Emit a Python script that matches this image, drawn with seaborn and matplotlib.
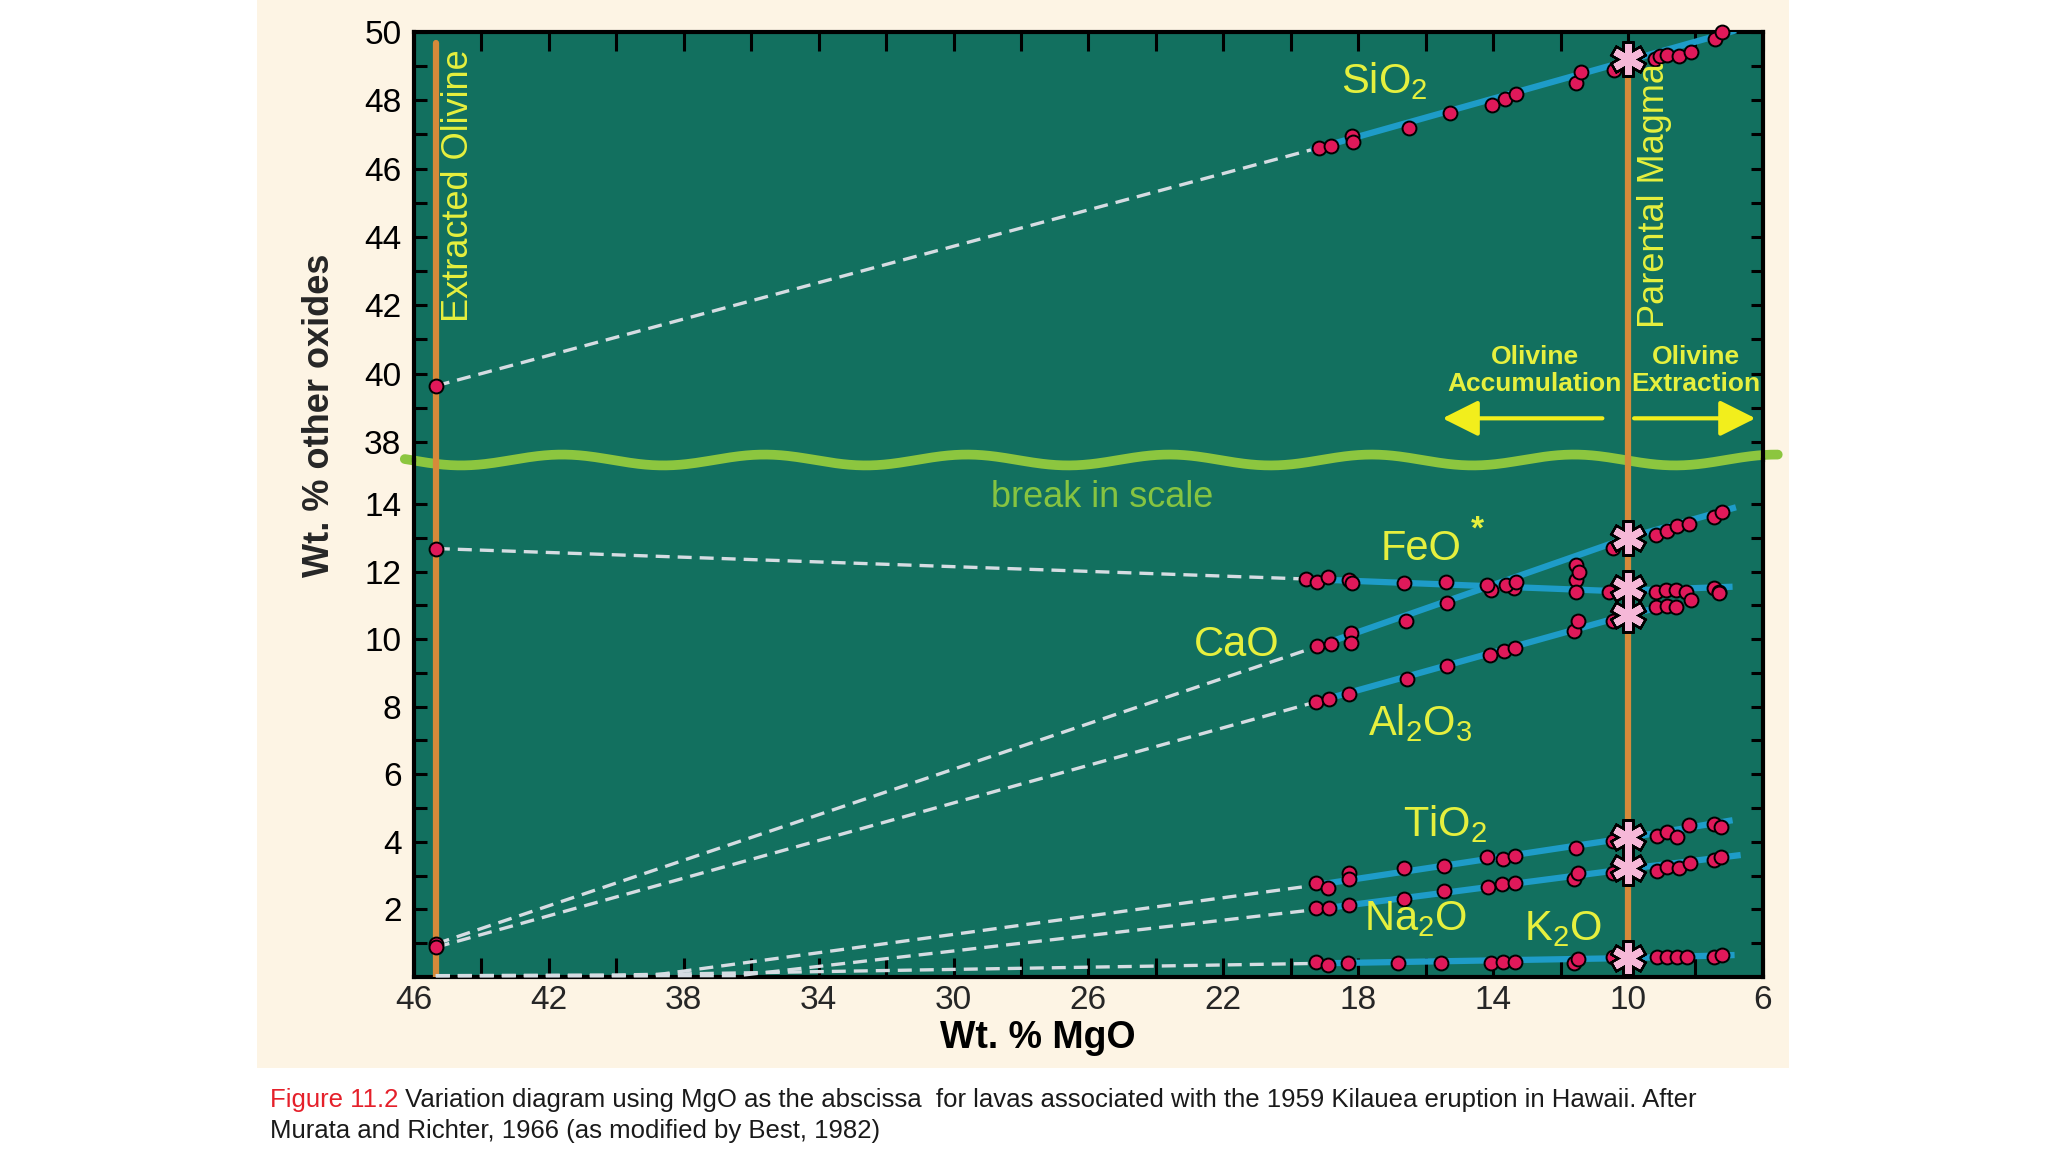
import numpy as np
import pandas as pd
import seaborn as sns
import matplotlib.pyplot as plt
from matplotlib.patches import Rectangle
from matplotlib.ticker import FixedLocator
from matplotlib.transforms import blended_transform_factory

# Kilauea 1959 lavas, Wt.% MgO vs Wt.% oxide
olivine_mgo = 45.35
parent_mgo = 10.0

sio2_mgo = [19.16, 18.81, 18.17, 18.15, 16.49, 15.28, 14.04, 13.64, 13.31, 11.55, 11.40, 10.41,
            9.2, 9.05, 8.84, 8.49, 8.14, 7.41, 7.2]
sio2_wt = [46.6, 46.66, 46.96, 46.79, 47.18, 47.62, 47.86, 48.03, 48.2, 48.5, 48.82, 48.9,
           49.22, 49.3, 49.33, 49.3, 49.42, 49.81, 50.0]

feo_mgo = [19.55, 19.23, 18.91, 18.27, 18.17, 16.64, 15.40, 14.07, 13.38, 11.55, 11.55, 10.56,
           9.18, 8.88, 8.59, 8.29, 7.45, 7.3]
feo_wt = [11.77, 11.7, 11.84, 11.75, 11.65, 11.65, 11.70, 11.45, 11.5, 11.75, 11.4, 11.4,
          11.4, 11.45, 11.45, 11.4, 11.5, 11.4]

cao_mgo = [19.23, 18.81, 18.22, 18.22, 16.59, 15.36, 14.17, 13.62, 13.31, 11.55, 11.45, 10.46,
           9.18, 8.84, 8.55, 8.19, 7.45, 7.21]
cao_wt = [9.79, 9.85, 10.17, 9.89, 10.54, 11.06, 11.6, 11.6, 11.7, 12.19, 11.99, 12.71,
          13.08, 13.2, 13.34, 13.4, 13.61, 13.76]

al2o3_mgo = [19.25, 18.88, 18.27, 16.54, 15.36, 14.1, 13.67, 13.35, 11.6, 11.47, 10.46,
             9.18, 8.84, 8.59, 8.14, 7.3]
al2o3_wt = [8.15, 8.22, 8.37, 8.81, 9.2, 9.53, 9.64, 9.75, 10.24, 10.54, 10.54,
            10.94, 10.98, 10.94, 11.15, 11.35]

tio2_mgo = [19.25, 18.9, 18.28, 18.28, 16.64, 15.45, 14.17, 13.7, 13.35, 11.55, 10.46,
            9.13, 8.84, 8.55, 8.19, 7.45, 7.25]
tio2_wt = [2.79, 2.64, 3.07, 2.9, 3.23, 3.28, 3.56, 3.49, 3.58, 3.81, 4.03,
           4.17, 4.3, 4.13, 4.5, 4.53, 4.45]

na2o_mgo = [19.25, 18.88, 18.28, 16.64, 15.45, 14.14, 13.74, 13.35, 11.6, 11.47, 10.46,
            9.13, 8.84, 8.49, 8.17, 7.45, 7.25]
na2o_wt = [2.03, 2.05, 2.13, 2.3, 2.54, 2.67, 2.75, 2.77, 2.89, 3.07, 3.07,
           3.15, 3.26, 3.22, 3.38, 3.46, 3.56]

k2o_mgo = [19.25, 18.9, 18.31, 16.81, 15.55, 14.07, 13.7, 13.35, 11.6, 11.47, 10.46,
           9.13, 8.84, 8.55, 8.24, 7.45, 7.2]
k2o_wt = [0.45, 0.36, 0.41, 0.41, 0.41, 0.42, 0.45, 0.45, 0.42, 0.52, 0.6,
          0.58, 0.58, 0.58, 0.58, 0.58, 0.66]

# extracted olivine composition
olivine_upper = [39.64]             # SiO2
olivine_lower = [12.68, 0.98, 0.88]  # FeO, CaO, Al2O3

# parental magma (stars)
parent_upper = [49.2]
parent_lower = [13.0, 11.5, 10.72, 4.15, 3.22, 0.55]  # CaO, FeO, Al2O3, TiO2, Na2O, K2O

# fitted trends through the lavas
sio2_fit = ([19.4, 6.8], [46.55, 50.05])
feo_fit = ([19.6, 10.4, 6.9], [11.78, 11.42, 11.55])
cao_fit = ([19.4, 10.0, 6.8], [9.72, 13.0, 13.9])
al2o3_fit = ([19.4, 10.0, 9.0], [8.1, 10.72, 10.95])
tio2_fit = ([19.4, 10.0, 6.9], [2.7, 4.12, 4.64])
na2o_fit = ([19.4, 10.0, 6.66], [1.98, 3.2, 3.61])
k2o_fit = ([19.4, 10.0, 6.84], [0.4, 0.56, 0.65])

# olivine control lines (dashed)
sio2_ctrl = ([45.35, 19.4], [39.64, 46.55])
feo_ctrl = ([45.35, 19.6], [12.68, 11.78])
cao_ctrl = ([45.35, 19.4], [0.98, 9.72])
al2o3_ctrl = ([45.35, 19.4], [0.88, 8.1])
tio2_ctrl = ([45.35, 39.0, 19.4], [0.04, 0.04, 2.7])
na2o_ctrl = ([45.35, 36.4, 19.4], [0.04, 0.04, 1.98])
k2o_ctrl = ([45.35, 40.0, 19.4], [0.04, 0.06, 0.4])

teal = '#12705F'
blue = '#1E9CC8'
dash_c = '#D5DCE2'
orange = '#D58A3A'
dot = '#E0195A'
pink = '#F6B8D8'
yellow = '#E6F03E'
arrow_c = '#F2EE1C'
green = '#8CC63F'

sns.set_theme(style='ticks')
plt.rcParams['font.family'] = ['Liberation Sans', 'DejaVu Sans']
plt.rcParams['mathtext.fontset'] = 'custom'
plt.rcParams['mathtext.rm'] = 'Liberation Sans'
plt.rcParams['mathtext.default'] = 'regular'

fig = plt.figure(figsize=(20.48, 11.52), dpi=100)
fig.patch.set_facecolor('white')
fig.patches.append(Rectangle((0.1255, 0.0729), 0.748, 0.9271, transform=fig.transFigure,
                             facecolor='#FDF4E4', edgecolor='none', zorder=-2))
fig.patches.append(Rectangle((0.2021, 0.1519), 0.6587, 0.8203, transform=fig.transFigure,
                             facecolor=teal, edgecolor='none', zorder=-1))

ax_bot = fig.add_axes([0.2021, 0.1519, 0.6587, 0.4488])
ax_top = fig.add_axes([0.2021, 0.6007, 0.6587, 0.3715])
ax_bot.set_zorder(1)
ax_top.set_zorder(2)
for ax in (ax_top, ax_bot):
    ax.set_facecolor('none')
    ax.set_xlim(46, 6)
    for sp in ax.spines.values():
        sp.set_linewidth(3)
        sp.set_color('black')
ax_top.set_ylim(37.47, 50)
ax_bot.set_ylim(0, 15.3)
ax_top.spines['bottom'].set_visible(False)
ax_bot.spines['top'].set_visible(False)

# ticks
for ax in (ax_top, ax_bot):
    ax.xaxis.set_major_locator(FixedLocator(np.arange(46, 5, -4)))
    ax.xaxis.set_minor_locator(FixedLocator(np.arange(44, 7, -4)))
    ax.tick_params(axis='x', which='both', direction='in', length=14, width=2.2, color='black')
    ax.tick_params(axis='y', which='both', direction='in', length=9, width=2.2,
                   left=True, right=True, labelsize=24, pad=9, colors='black')
ax_top.tick_params(axis='x', which='both', top=True, bottom=False, labelbottom=False)
ax_bot.tick_params(axis='x', which='both', top=False, bottom=True, labelsize=24, pad=6)
ax_top.yaxis.set_major_locator(FixedLocator(np.arange(38, 51, 2)))
ax_top.yaxis.set_minor_locator(FixedLocator(np.arange(39, 50, 2)))
ax_bot.yaxis.set_major_locator(FixedLocator(np.arange(2, 15, 2)))
ax_bot.yaxis.set_minor_locator(FixedLocator(np.arange(1, 15, 2)))
ax_bot.set_xticklabels([str(v) for v in range(46, 5, -4)])

# break in scale
wave_x = np.linspace(46.27, 5.56, 600)
wave_y = 1 + 0.0105 * np.cos(2 * np.pi * (wave_x - 41.6) / 6.0)
ax_bot.plot(wave_x, wave_y, color=green, lw=7, solid_capstyle='round', clip_on=False,
            transform=blended_transform_factory(ax_bot.transData, ax_bot.transAxes), zorder=2)

# vertical reference lines
ax_top.plot([olivine_mgo, olivine_mgo], [37.47, 49.68], color=orange, lw=4.5, zorder=3)
ax_bot.plot([olivine_mgo, olivine_mgo], [0, 15.3], color=orange, lw=4.5, zorder=3)
ax_top.plot([parent_mgo, parent_mgo], [37.47, 49.0], color=orange, lw=4.5, zorder=3)
ax_bot.plot([parent_mgo, parent_mgo], [1.05, 15.3], color=orange, lw=4.5, zorder=3)

# dashed control lines and blue trends
for ax, lines in ((ax_top, [sio2_ctrl]),
                  (ax_bot, [feo_ctrl, cao_ctrl, al2o3_ctrl, tio2_ctrl, na2o_ctrl, k2o_ctrl])):
    for xs, ys in lines:
        ax.plot(xs, ys, color=dash_c, lw=2.4, dashes=(4.2, 2.4), zorder=3.5, clip_on=False)
for ax, lines in ((ax_top, [sio2_fit]),
                  (ax_bot, [feo_fit, cao_fit, al2o3_fit, tio2_fit, na2o_fit, k2o_fit])):
    for xs, ys in lines:
        ax.plot(xs, ys, color=blue, lw=4.5, solid_capstyle='butt', zorder=3.6)

# lava analyses
upper_pts = pd.DataFrame({'mgo': sio2_mgo, 'wt': sio2_wt})
lower_pts = pd.concat([pd.DataFrame({'mgo': m, 'wt': w}) for m, w in
                       [(feo_mgo, feo_wt), (cao_mgo, cao_wt), (al2o3_mgo, al2o3_wt),
                        (tio2_mgo, tio2_wt), (na2o_mgo, na2o_wt), (k2o_mgo, k2o_wt)]])
for ax, df, ol in ((ax_top, upper_pts, olivine_upper), (ax_bot, lower_pts, olivine_lower)):
    sns.scatterplot(data=df, x='mgo', y='wt', ax=ax, color=dot, edgecolor='black',
                    linewidth=1.4, s=100, zorder=5, clip_on=False, legend=False)
    sns.scatterplot(x=[olivine_mgo] * len(ol), y=ol, ax=ax, color=dot, edgecolor='black',
                    linewidth=1.4, s=100, zorder=5, legend=False)
    ax.set_xlabel('')
    ax.set_ylabel('')

# parental magma stars
for ax, vals in ((ax_top, parent_upper), (ax_bot, parent_lower)):
    px = [parent_mgo] * len(vals)
    ax.plot(px, vals, ls='none', marker=(6, 2, 0), ms=26, mew=9, mec='black', zorder=6,
            clip_on=False)
    ax.plot(px, vals, ls='none', marker=(6, 2, 0), ms=22, mew=5, mec=pink, zorder=7,
            clip_on=False)

# oxide labels
lab = dict(color=yellow, fontsize=30, ha='left', va='baseline', zorder=8)
ax_top.text(18.5, 48.2, r'SiO$_2$', **lab)
ax_bot.text(17.33, 12.34, 'FeO', **lab)
ax_bot.text(14.47, 13.22, '*', color=yellow, fontsize=24, fontweight='bold', ha='center',
            va='center', zorder=8)
ax_bot.text(22.86, 9.51, 'CaO', **lab)
ax_bot.text(17.72, 7.15, r'Al$_2$O$_3$', **lab)
ax_bot.text(16.68, 4.17, r'TiO$_2$', **lab)
ax_bot.text(17.82, 1.39, r'Na$_2$O', **lab)
ax_bot.text(13.08, 1.09, r'K$_2$O', **lab)
ax_bot.text(25.6, 14.18, 'break in scale', color='#86C441', fontsize=26, ha='center',
            va='center', zorder=8)

ax_top.text(44.68, 45.5, 'Extracted Olivine', color=yellow, fontsize=26, rotation=90,
            ha='center', va='center', zorder=8)
ax_top.text(9.2, 45.2, 'Parental Magma', color=yellow, fontsize=26, rotation=90,
            ha='center', va='center', zorder=8)
ax_top.text(12.76, 40.09, 'Olivine\nAccumulation', color=yellow, fontsize=19,
            fontweight='bold', ha='center', va='center', linespacing=1.15, zorder=8)
ax_top.text(7.99, 40.09, 'Olivine\nExtraction', color=yellow, fontsize=19,
            fontweight='bold', ha='center', va='center', linespacing=1.15, zorder=8)
arrow = dict(arrowstyle='-|>,head_length=1.1,head_width=0.55', mutation_scale=20, lw=3,
             color=arrow_c, shrinkA=0, shrinkB=0)
ax_top.annotate('', xy=(15.5, 38.69), xytext=(10.76, 38.69), arrowprops=arrow, zorder=8)
ax_top.annotate('', xy=(6.22, 38.69), xytext=(9.82, 38.69), arrowprops=arrow, zorder=8)

# axis titles
ax_bot.set_xlabel('Wt. % MgO', fontsize=27, fontweight='bold', color='black')
ax_bot.xaxis.set_label_coords(0.4626, -0.083)
fig.text(0.1558, 0.6398, 'Wt. % other oxides', fontsize=26, fontweight='bold',
         rotation=90, ha='center', va='center')

# caption
red = fig.text(0.1318, 0.0451, 'Figure 11.2', color='#E5202A', fontsize=18.5, va='center')
ax_bot.annotate(' Variation diagram using MgO as the abscissa  for lavas associated with the '
                '1959 Kilauea eruption in Hawaii. After', xy=(1, 0.5), xycoords=red,
                va='center', ha='left', fontsize=18.5, color='#1A1A1A', annotation_clip=False)
fig.text(0.1318, 0.0182, 'Murata and Richter, 1966 (as modified by Best, 1982)',
         color='#1A1A1A', fontsize=18.5, va='center')

fig.savefig('out.png', dpi=100)
